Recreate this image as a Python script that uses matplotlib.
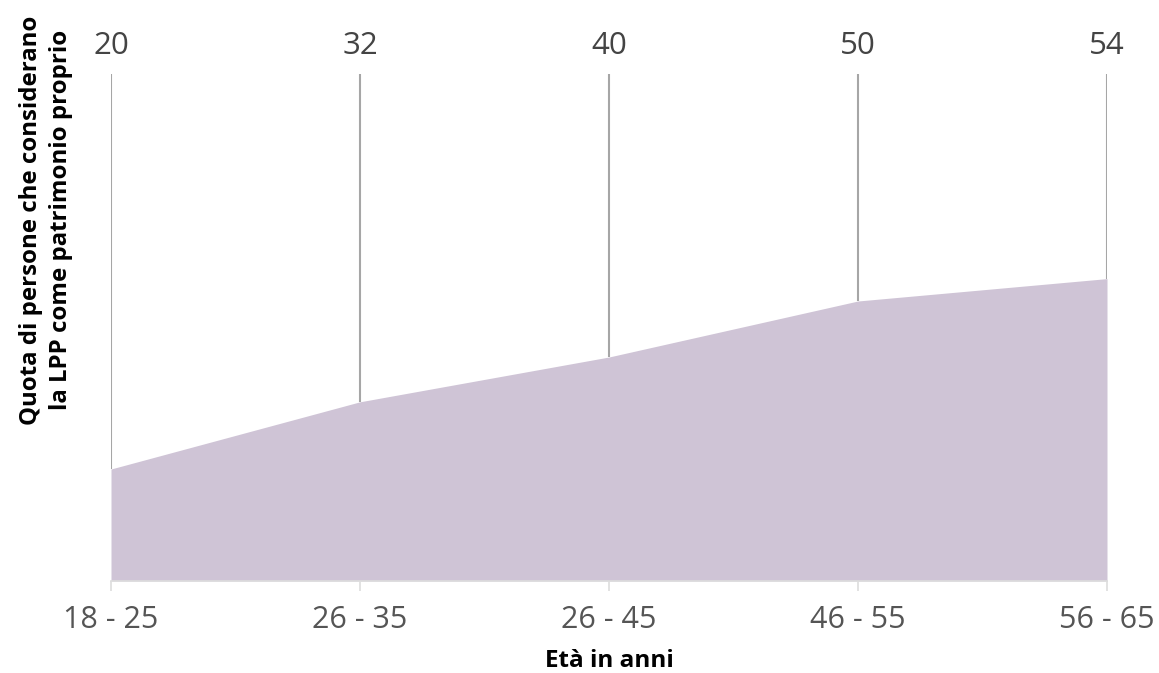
import matplotlib
matplotlib.use('Agg')
import matplotlib.pyplot as plt

plt.rcParams['font.family'] = ['Open Sans', 'DejaVu Sans']

# dati
categorie = ['18 - 25', '26 - 35', '26 - 45', '46 - 55', '56 - 65']
valori = [20, 32, 40, 50, 54]

W, H = 1159, 673
fig = plt.figure(figsize=(W / 100, H / 100), dpi=100)
ax = fig.add_axes([111 / W, (H - 581) / H, (1107 - 111) / W, (581 - 21) / H])

x = list(range(len(categorie)))
ax.fill_between(x, valori, 0, color='#cfc4d6', linewidth=0)

# linee verticali fino alle etichette
ax.vlines(x, valori, 90.6, color='#a6a6a6', linewidth=1.5)
for xi, v in zip(x, valori):
    ax.text(xi, 95.6, str(v), ha='center', va='center', fontsize=22.5, color='#444444')

ax.set_xlim(0, len(categorie) - 1)
ax.set_ylim(0, 100)

for s in ['top', 'right', 'left']:
    ax.spines[s].set_visible(False)
ax.spines['bottom'].set_color('#dddddd')
ax.spines['bottom'].set_linewidth(1.2)
ax.set_yticks([])
ax.set_xticks(x)
ax.set_xticklabels(categorie, fontsize=22, color='#555555')
ax.tick_params(axis='x', length=7.5, width=1.2, color='#dddddd', pad=10)

ax.set_xlabel('Età in anni', fontsize=17.5, fontweight='bold', labelpad=10)
fig.text(46 / W, 1 - 220 / H, 'Quota di persone che considerano\nla LPP come patrimonio proprio',
         rotation=90, ha='center', va='center', fontsize=17.3, fontweight='bold',
         linespacing=1.3)

fig.savefig('out.png', dpi=100)
